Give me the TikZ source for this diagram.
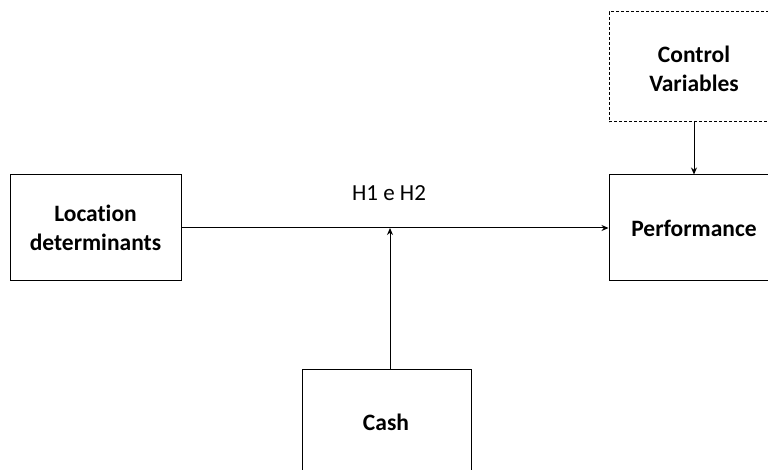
\documentclass[tikz,border=0pt]{standalone}
\usepackage{fontspec}
\setmainfont{Carlito}[RawFeature=-liga]
\usetikzlibrary{arrows.meta}
\begin{document}
\begin{tikzpicture}[x=1pt,y=-1pt,
  bigfont/.style={font=\fontsize{23.5}{29}\selectfont\bfseries},
  box/.style={draw=black,line width=1pt,minimum width=171pt,minimum height=106pt,inner sep=0pt,
    bigfont,align=center,text width=160pt},
  cbox/.style={box,dashed,dash pattern=on 3pt off 2pt},
  arr/.style={-{Stealth[length=7pt,width=6pt]},line width=1pt}]
\useasboundingbox (0,0) rectangle (768,470);
\clip (0,0) rectangle (768,470);
\node[box] (loc) at (95.5,228) {Location\\determinants};
\node[box,minimum width=180pt] (perf) at (699,228) {};
\node[bigfont] (perft) at (694,228) {Performance};
\node[cbox,minimum width=180pt,minimum height=110pt] (ctrl) at (699,67) {};
\node[bigfont,align=center] (ctrlt) at (694,69) {Control\\Variables};
\node[box,minimum width=169pt,minimum height=120pt] (cash) at (386.5,429) {};
\node[bigfont] (casht) at (386,422) {Cash};
\node[font=\fontsize{23}{29}\selectfont] (h) at (389,193) {H1 e H2};
\draw[arr] (loc.east) -- (perf.west);
\coordinate (mid) at (390,228);
\draw[arr] (cash.north -| mid) -- (mid);
\draw[arr] (ctrl.south -| perft) -- (perf.north -| perft);
\end{tikzpicture}
\end{document}
